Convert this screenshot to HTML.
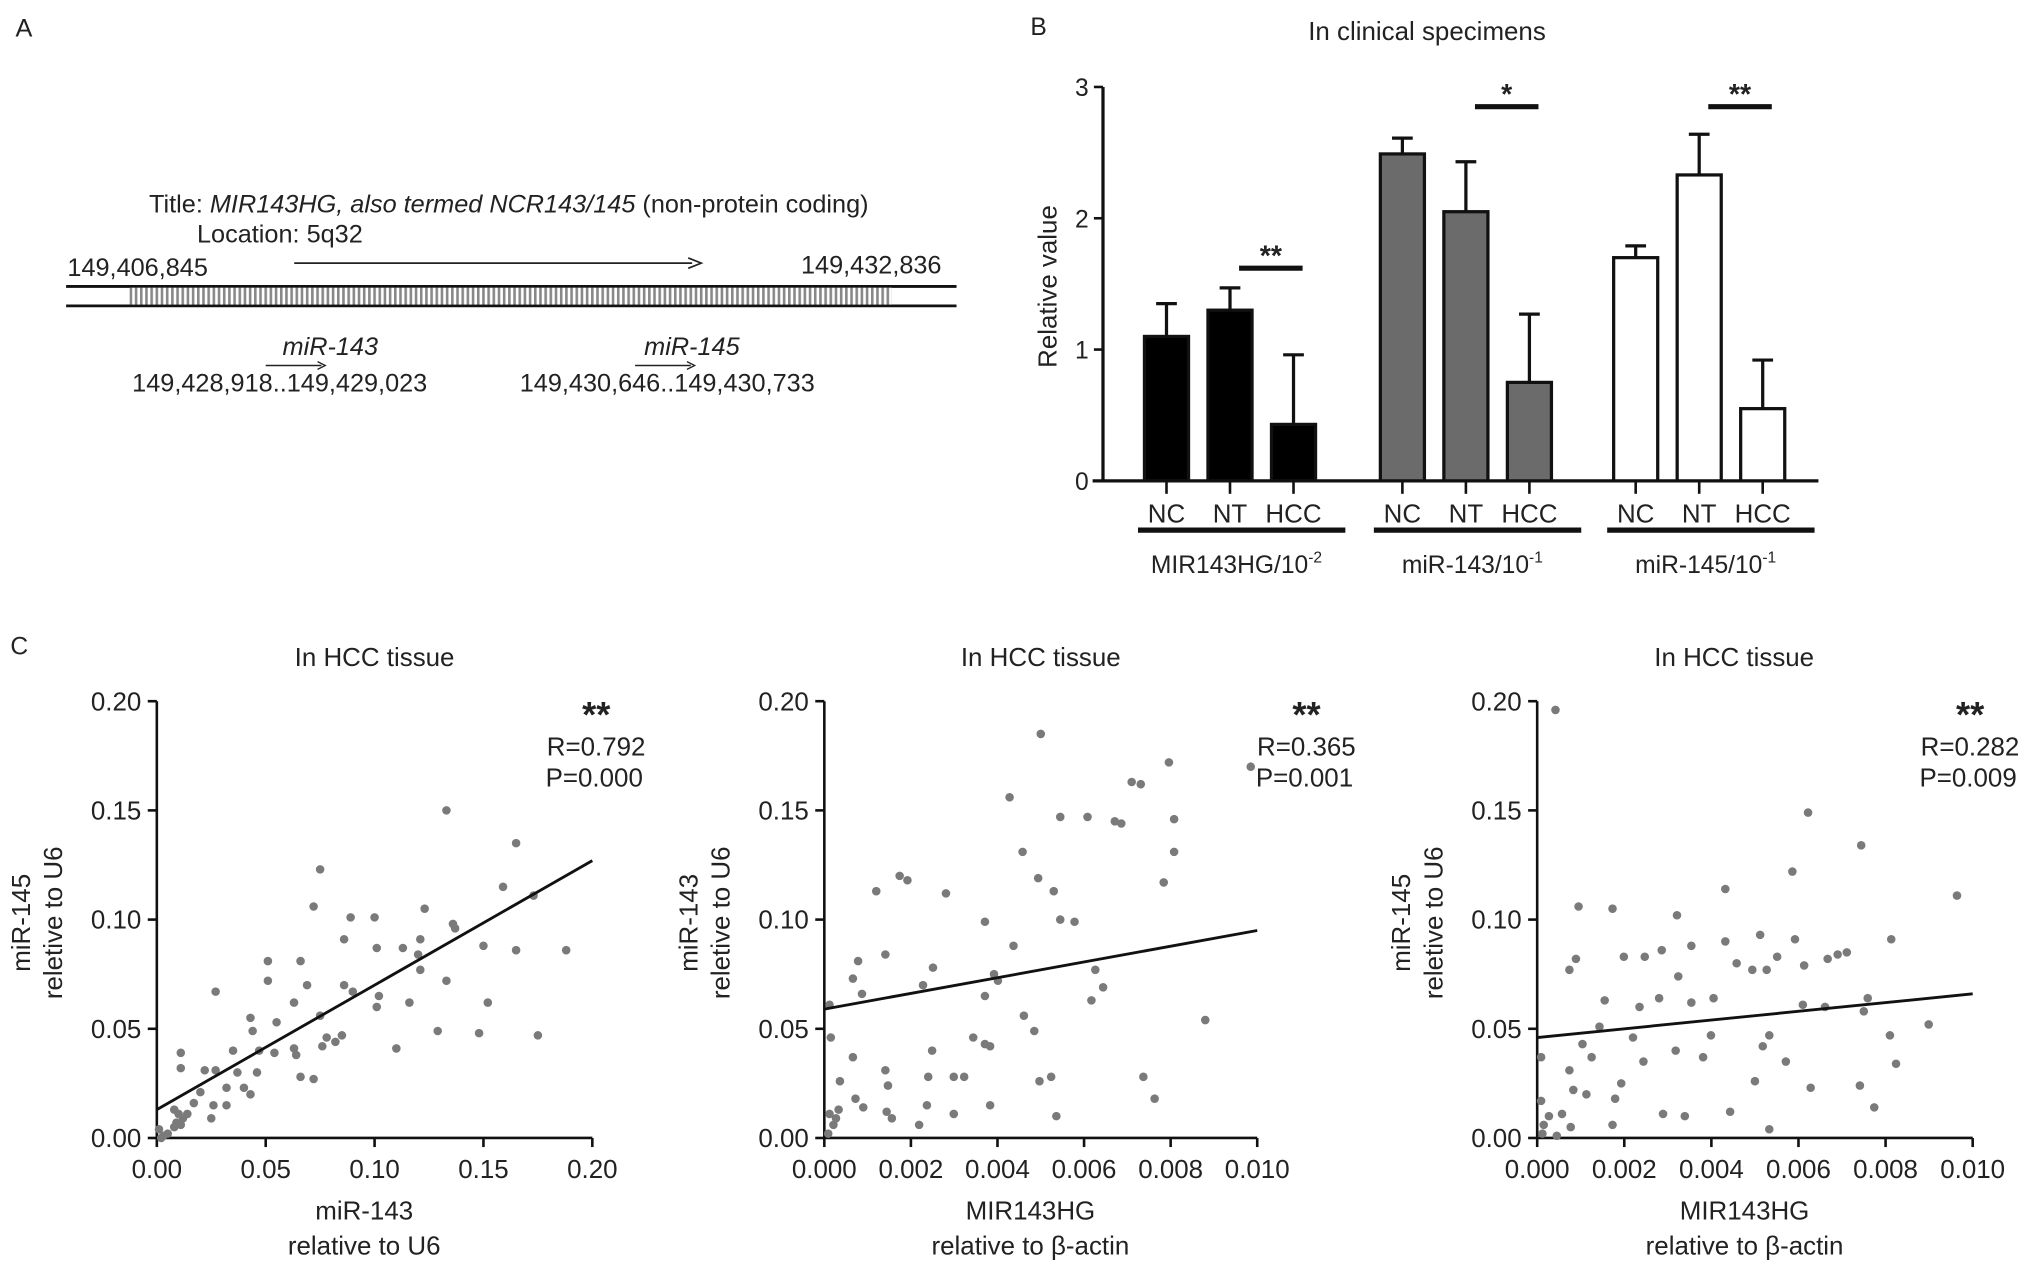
<!DOCTYPE html>
<html><head><meta charset="utf-8"><style>
html,body{margin:0;padding:0;background:#fff}
svg{display:block;font-family:"Liberation Sans",Arial,sans-serif}
</style></head><body>
<svg id="fig" width="2031" height="1272" viewBox="0 0 1567 981.4" preserveAspectRatio="none" xmlns="http://www.w3.org/2000/svg">
<defs><pattern id="hatch" width="4" height="13" patternUnits="userSpaceOnUse"><rect width="4" height="13" fill="#fff"/><rect width="2" height="13" fill="#888"/></pattern></defs>
<g fill="#222" font-size="19.5">
<text x="12" y="28">A</text>
<text x="115" y="164">Title: <tspan font-style="italic">MIR143HG, also termed NCR143/145</tspan> (non-protein coding)</text>
<text x="152" y="187">Location: 5q32</text>
<text x="52" y="213">149,406,845</text>
<text x="618" y="211">149,432,836</text>
<line x1="227" y1="203" x2="534" y2="203" stroke="#222" stroke-width="1.3"/>
<path d="M531,199 L541,203 L531,207" fill="none" stroke="#222" stroke-width="1.3"/>
<line x1="51" y1="221" x2="738" y2="221" stroke="#111" stroke-width="2.2"/>
<line x1="51" y1="236" x2="738" y2="236" stroke="#111" stroke-width="2.2"/>
<rect x="100" y="222" width="588" height="13" fill="url(#hatch)"/>
<text x="218" y="274" font-style="italic">miR-143</text>
<line x1="205" y1="282" x2="248" y2="282" stroke="#222" stroke-width="1.2"/><path d="M245,279 L251,282 L245,285" fill="none" stroke="#222"/>
<text x="102" y="302">149,428,918..149,429,023</text>
<text x="497" y="274" font-style="italic">miR-145</text>
<line x1="490" y1="282" x2="533" y2="282" stroke="#222" stroke-width="1.2"/><path d="M530,279 L536,282 L530,285" fill="none" stroke="#222"/>
<text x="401" y="302">149,430,646..149,430,733</text>
</g>
<g id="panelB"></g>
<g id="panelC"></g>
</svg>
<script>
// ---- Panel B data ----
const groups = ["MIR143HG/10", "miR-143/10", "miR-145/10"];
const groupExp = ["-2", "-1", "-1"];
const conds = ["NC", "NT", "HCC"];
const barMeans = [[1.10, 1.30, 0.43], [2.49, 2.05, 0.75], [1.70, 2.33, 0.55]];
const barErrTop = [[1.35, 1.47, 0.96], [2.61, 2.43, 1.27], [1.79, 2.64, 0.92]];
const sigLabels = ["**", "*", "**"];
const sigLevels = [1.62, 2.85, 2.85];
const bTicks = [0, 1, 2, 3];
// ---- Panel C data ----
const s1x = [0.133,0.165,0.075,0.159,0.173,0.072,0.123,0.089,0.100,0.136,0.137,0.086,0.121,0.101,0.113,0.150,0.165,0.188,0.120,0.121,0.051,0.066,0.051,0.069,0.086,0.090,0.133,0.027,0.102,0.063,0.116,0.152,0.101,0.075,0.043,0.055,0.044,0.129,0.148,0.175,0.085,0.078,0.082,0.076,0.110,0.063,0.035,0.047,0.011,0.054,0.064,0.011,0.022,0.027,0.037,0.046,0.066,0.072,0.032,0.040,0.020,0.043,0.017,0.026,0.032,0.008,0.010,0.014,0.025,0.012,0.009,0.011,0.008,0.001,0.003,0.005,0.002];
const s1y = [0.150,0.135,0.123,0.115,0.111,0.106,0.105,0.101,0.101,0.098,0.096,0.091,0.091,0.087,0.087,0.088,0.086,0.086,0.084,0.077,0.081,0.081,0.072,0.070,0.070,0.067,0.072,0.067,0.065,0.062,0.062,0.062,0.060,0.056,0.055,0.053,0.049,0.049,0.048,0.047,0.047,0.046,0.044,0.042,0.041,0.041,0.040,0.040,0.039,0.039,0.038,0.032,0.031,0.031,0.030,0.030,0.028,0.027,0.023,0.023,0.021,0.020,0.016,0.015,0.015,0.013,0.011,0.011,0.009,0.009,0.007,0.006,0.005,0.004,0.001,0.002,0.000];
const s2x = [5.00,7.96,9.85,4.28,7.10,7.31,6.71,8.08,5.45,6.08,1.74,1.92,2.81,6.86,8.08,7.84,4.58,3.71,5.45,5.78,5.30,4.94,1.20,0.78,1.41,2.51,0.66,4.37,2.28,4.01,3.92,3.71,6.17,6.44,6.26,4.61,4.85,3.71,3.83,2.49,3.23,4.97,5.24,7.37,8.80,7.63,2.40,1.41,0.66,0.36,0.72,0.90,1.44,0.12,0.27,0.09,0.21,0.33,1.56,2.19,2.99,3.83,5.36,2.99,3.44,0.12,0.15,1.47,0.87,2.37].map(v=>v/1000);
const s2y = [0.185,0.172,0.170,0.156,0.163,0.162,0.145,0.146,0.147,0.147,0.120,0.118,0.112,0.144,0.131,0.117,0.131,0.099,0.100,0.099,0.113,0.119,0.113,0.081,0.084,0.078,0.073,0.088,0.070,0.072,0.075,0.065,0.063,0.069,0.077,0.056,0.049,0.043,0.042,0.040,0.028,0.026,0.028,0.028,0.054,0.018,0.028,0.031,0.037,0.026,0.018,0.014,0.012,0.011,0.009,0.002,0.006,0.013,0.009,0.006,0.011,0.015,0.010,0.028,0.046,0.061,0.046,0.024,0.066,0.015];
const s3x = [0.42,6.22,5.86,7.44,4.32,0.95,1.73,0.89,3.21,4.32,5.12,3.54,5.92,6.67,7.11,6.90,8.13,5.51,4.94,2.86,2.47,1.99,3.24,4.58,5.27,6.13,7.59,6.61,6.10,4.05,3.54,2.35,0.74,1.55,2.80,3.99,5.33,7.50,8.10,8.99,1.43,2.20,1.04,2.44,3.18,3.81,5.00,4.43,2.89,3.39,1.79,1.13,0.83,0.09,0.74,1.93,1.25,7.41,8.24,7.74,5.33,6.28,0.15,0.27,0.45,0.57,0.12,0.77,1.73,0.09,5.18,5.71,9.64].map(v=>v/1000);
const s3y = [0.196,0.149,0.122,0.134,0.114,0.106,0.105,0.082,0.102,0.090,0.093,0.088,0.091,0.082,0.085,0.084,0.091,0.083,0.077,0.086,0.083,0.083,0.074,0.080,0.077,0.079,0.064,0.060,0.061,0.064,0.062,0.060,0.077,0.063,0.064,0.047,0.047,0.058,0.047,0.052,0.051,0.046,0.043,0.035,0.040,0.037,0.026,0.012,0.011,0.010,0.018,0.020,0.022,0.037,0.031,0.025,0.037,0.024,0.034,0.014,0.004,0.023,0.006,0.010,0.001,0.011,0.002,0.005,0.006,0.017,0.042,0.035,0.111];
const fitIntercepts = [0.013, 0.059, 0.046];
const fitSlopes = [0.57, 3.6, 2.0];
const xMaxes = [0.20, 0.010, 0.010];
const xTickLabels = [["0.00","0.05","0.10","0.15","0.20"],["0.000","0.002","0.004","0.006","0.008","0.010"],["0.000","0.002","0.004","0.006","0.008","0.010"]];
const yTickLabels = ["0.00","0.05","0.10","0.15","0.20"];
const rLabels = ["R=0.792","R=0.365","R=0.282"];
const pLabels = ["P=0.000","P=0.001","P=0.009"];
const yTitles = [["miR-145","reletive to U6"],["miR-143","reletive to U6"],["miR-145","reletive to U6"]];
const xTitles = [["miR-143","relative to U6"],["MIR143HG","relative to \u03b2-actin"],["MIR143HG","relative to \u03b2-actin"]];

const NS="http://www.w3.org/2000/svg";
function mk(parent,tag,attrs,text){const e=document.createElementNS(NS,tag);for(const k in attrs)e.setAttribute(k,attrs[k]);if(text!==undefined)e.textContent=text;parent.appendChild(e);return e;}

// ---- Panel B ----
const B=document.getElementById('panelB');
const by0=371, byPer=101.3, bx0=851;
const yB=v=>by0-v*byPer;
const groupStart=[883,1065,1245], barStep=49, barW=34;
const fills=["#000","#6b6b6b","#fff"];
let t=mk(B,'text',{x:795,y:27,'font-size':19,fill:'#222'},'B');


t=mk(B,'text',{x:1101,y:31,'font-size':20,'text-anchor':'middle',fill:'#222'},'In clinical specimens');


let ax=mk(B,'line',{x1:bx0,y1:yB(3),x2:bx0,y2:by0,stroke:'#111','stroke-width':2.5});


ax=mk(B,'line',{x1:843,y1:by0,x2:1403,y2:by0,stroke:'#111','stroke-width':2.5});


bTicks.forEach(v=>{
  mk(B,'line',{x1:bx0-7,y1:yB(v),x2:bx0,y2:yB(v),stroke:'#111','stroke-width':2});
  const tl=mk(B,'text',{x:bx0-11,y:yB(v)+7,'font-size':19,'text-anchor':'end',fill:'#222'},String(v));
  
  
});
t=mk(B,'text',{x:0,y:0,'font-size':20,'text-anchor':'middle',fill:'#222',transform:`translate(815,${yB(1.5)+2}) rotate(-90)`},'Relative value');


groups.forEach((g,gi)=>{
  const centers=conds.map((c,ci)=>groupStart[gi]+17+ci*barStep);
  conds.forEach((c,ci)=>{
    const cx=centers[ci];
    const top=yB(barMeans[gi][ci]);
    const r=mk(B,'rect',{x:cx-barW/2,y:top,width:barW,height:by0-top,fill:fills[gi],stroke:'#111','stroke-width':2.5});
    
    
    const et=yB(barErrTop[gi][ci]);
    const el=mk(B,'path',{d:`M${cx},${top} V${et} M${cx-8},${et} H${cx+8}`,stroke:'#111','stroke-width':2.5,fill:'none'});
    
    
    mk(B,'line',{x1:cx,y1:by0,x2:cx,y2:by0+10,stroke:'#111','stroke-width':2});
    const cl=mk(B,'text',{x:cx,y:403,'font-size':20,'text-anchor':'middle',fill:'#222'},c);
    
    
  });
  const ul=mk(B,'line',{x1:centers[0]-22,y1:409,x2:centers[2]+40,y2:409,stroke:'#111','stroke-width':4});
  
  
  const gl=mk(B,'text',{x:(centers[0]+centers[2])/2+5,y:442,'font-size':19,'text-anchor':'middle',fill:'#222'},g);
  mk(gl,'tspan',{'font-size':12,dy:-8},groupExp[gi]);
  
  
  const sy=yB(sigLevels[gi]);
  const sb=mk(B,'line',{x1:centers[1]+7,y1:sy,x2:centers[2]+7,y2:sy,stroke:'#111','stroke-width':4});
  
  
  const st=mk(B,'text',{x:(centers[1]+centers[2])/2+7,y:sy-2,'font-size':22,'font-weight':'bold','text-anchor':'middle',fill:'#222'},sigLabels[gi]);
  
  
});

// ---- Panel C ----
const C=document.getElementById('panelC');
t=mk(C,'text',{x:8,y:505,'font-size':19,fill:'#222'},'C');


const xL=[121,636,1186], xR=[457,970,1522], cy0=878, cyTop=541;
const annX=[498,1046,1558];
const titleShift=[0,0,16];
const xs=[s1x,s2x,s3x], ys=[s1y,s2y,s3y];
for(let p=0;p<3;p++){
  const X=v=>xL[p]+v/xMaxes[p]*(xR[p]-xL[p]);
  const Y=v=>cy0-v/0.2*(cy0-cyTop);
  const g=mk(C,'g',{});
  
  
  const ti=mk(g,'text',{x:(xL[p]+xR[p])/2-titleShift[p],y:514,'font-size':20,'text-anchor':'middle',fill:'#222'},'In HCC tissue');
  
  
  const ya=mk(g,'line',{x1:xL[p],y1:cyTop,x2:xL[p],y2:cy0,stroke:'#111','stroke-width':2});
  
  
  const xa=mk(g,'line',{x1:xL[p],y1:cy0,x2:xR[p],y2:cy0,stroke:'#111','stroke-width':2});
  
  
  yTickLabels.forEach((lab,i)=>{
    const v=parseFloat(lab);
    mk(g,'line',{x1:xL[p]-7,y1:Y(v),x2:xL[p],y2:Y(v),stroke:'#111','stroke-width':2});
    const tl=mk(g,'text',{x:xL[p]-12,y:Y(v)+7,'font-size':20,'text-anchor':'end',fill:'#222'},lab);
    
    
  });
  xTickLabels[p].forEach(lab=>{
    const v=parseFloat(lab);
    mk(g,'line',{x1:X(v),y1:cy0,x2:X(v),y2:cy0+7,stroke:'#111','stroke-width':2});
    const tl=mk(g,'text',{x:X(v),y:cy0+31,'font-size':20,'text-anchor':'middle',fill:'#222'},lab);
    
    
  });
  const yt=mk(g,'text',{'font-size':20,'text-anchor':'middle',fill:'#222',transform:`translate(${xL[p]-98},712) rotate(-90)`});
  mk(yt,'tspan',{x:0,y:0},yTitles[p][0]);
  mk(yt,'tspan',{x:0,y:25},yTitles[p][1]);
  
  
  const xt=mk(g,'text',{'font-size':20,'text-anchor':'middle',fill:'#222'});
  mk(xt,'tspan',{x:(xL[p]+xR[p])/2-8,y:941},xTitles[p][0]);
  mk(xt,'tspan',{x:(xL[p]+xR[p])/2-8,y:968},xTitles[p][1]);
  
  
  xs[p].forEach((xv,i)=>{
    const d=mk(g,'circle',{cx:X(xv),cy:Y(ys[p][i]),r:3.3,fill:'#7a7a7a'});
    
    
  });
  const fl=mk(g,'line',{x1:X(0),y1:Y(fitIntercepts[p]),x2:X(xMaxes[p]),y2:Y(fitIntercepts[p]+fitSlopes[p]*xMaxes[p]),stroke:'#111','stroke-width':2.2});
  
  
  const rx=annX[p];
  const s=mk(g,'text',{x:rx-38,y:561,'font-size':28,'font-weight':'bold','text-anchor':'middle',fill:'#222'},'**');
  
  
  const rl=mk(g,'text',{x:rx,y:583,'font-size':20,'text-anchor':'end',fill:'#222'},rLabels[p]);
  
  
  const pl=mk(g,'text',{x:rx-2,y:607,'font-size':20,'text-anchor':'end',fill:'#222'},pLabels[p]);
  
  
}
</script>
</body></html>
